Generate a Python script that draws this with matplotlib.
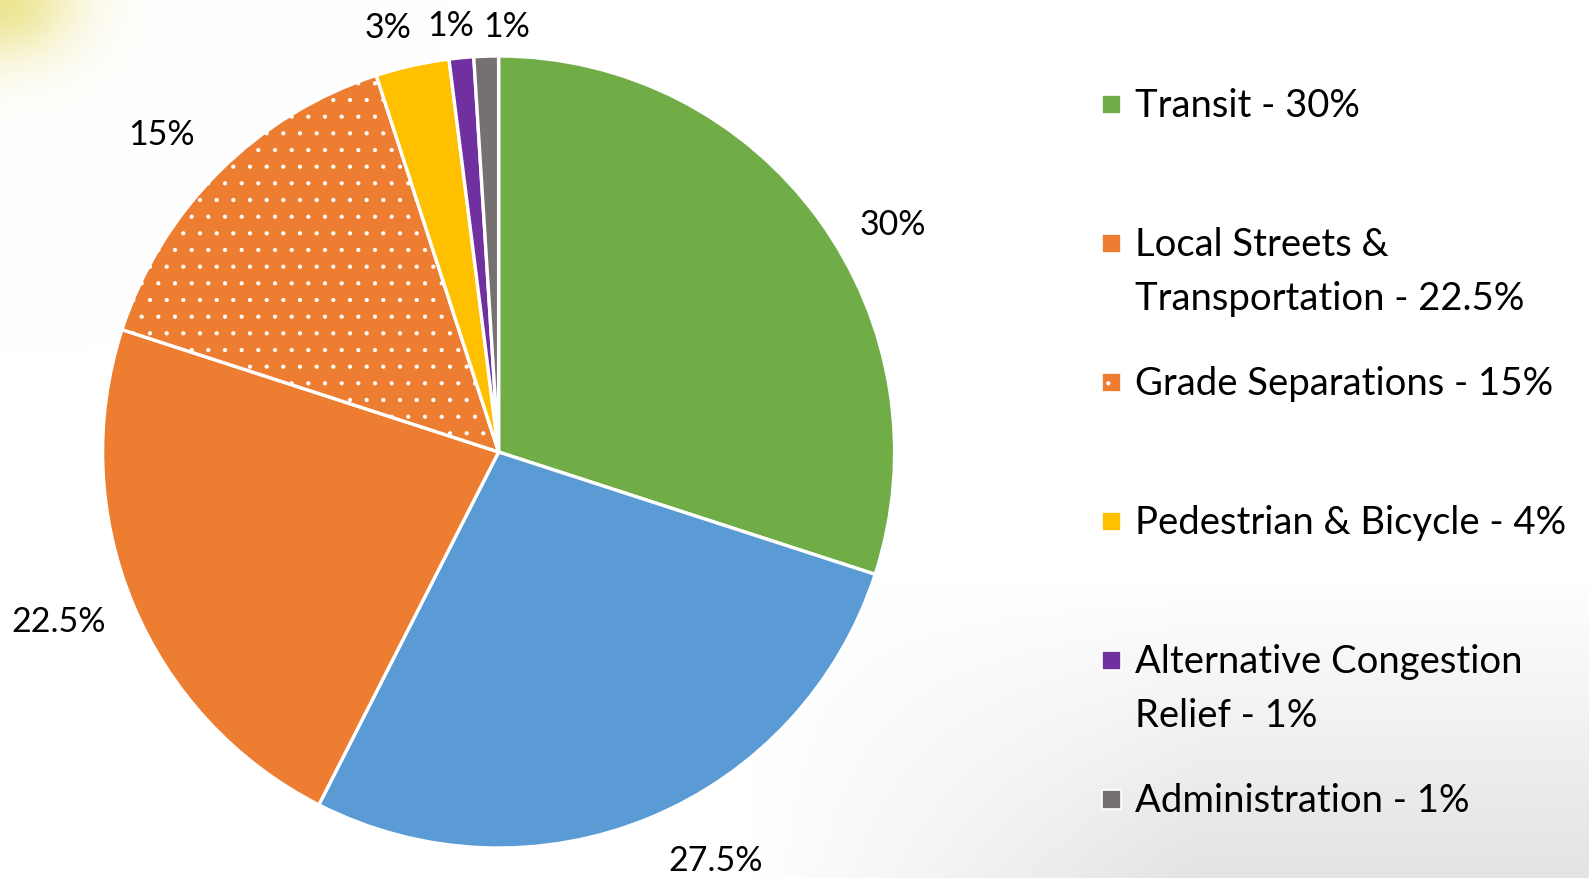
import numpy as np
import matplotlib
matplotlib.use("Agg")
import matplotlib.pyplot as plt
from matplotlib.patches import Rectangle

plt.rcParams['font.family'] = ['Lato', 'DejaVu Sans']
plt.rcParams['hatch.color'] = 'white'
plt.rcParams['hatch.linewidth'] = 0.6

# slices, clockwise from 12 o'clock
slice_values = [30, 27.5, 22.5, 15, 3, 1, 1]
slice_labels = ["30%", "27.5%", "22.5%", "15%", "3%", "1%", "1%"]
slice_colors = ["#70AD47", "#5B9BD5", "#ED7D31", "#ED7D31", "#FFC000", "#7030A0", "#767171"]
slice_hatch = [None, None, None, ".", None, None, None]

legend_labels = [
    "Transit - 30%",
    "Local Streets &\nTransportation - 22.5%",
    "Grade Separations - 15%",
    "Pedestrian & Bicycle - 4%",
    "Alternative Congestion\nRelief - 1%",
    "Administration - 1%",
]
legend_colors = ["#70AD47", "#ED7D31", "#ED7D31", "#FFC000", "#7030A0", "#767171"]
legend_hatch = [None, None, ".", None, None, None]

# where the % labels sit: angle nudge (deg) and distance (in radii)
lbl_shift = [-6, 5.5, -1.5, 1.6, 2, 1, -2.9]
lbl_dist = [1.15, 1.166, 1.19, 1.17, 1.11, 1.085, 1.077]

W, H = 1589, 879
fig = plt.figure(figsize=(W / 100, H / 100), dpi=100)

# background: yellow glow top-left, grey haze bottom-right
bg = fig.add_axes([0, 0, 1, 1], zorder=0)
yy, xx = np.mgrid[0:H, 0:W]
img = np.ones((H, W, 3))
g = 0.75 * np.exp(-((xx / 75.0) ** 2 + (yy / 60.0) ** 2))
yellow = np.array([0.90, 0.86, 0.42])
img = img * (1 - g[..., None]) + yellow * g[..., None]
haze = 0.2 * np.clip((yy - 580) / 300.0, 0, 1) * np.clip((xx - 750) / 450.0, 0, 1)
img = img * (1 - haze[..., None]) + 0.45 * haze[..., None]
bg.imshow(img, extent=(0, W, H, 0), aspect='auto')
bg.set_xlim(0, W)
bg.set_ylim(H, 0)
bg.axis('off')

# pie
cx, cy, r = 498.6, 453, 396
ax = fig.add_axes([(cx - r) / W, (H - cy - r) / H, 2 * r / W, 2 * r / H], zorder=2)
wedges, _ = ax.pie(slice_values, colors=slice_colors, startangle=90, counterclock=False,
                   radius=1, wedgeprops=dict(edgecolor='white', linewidth=2.4))
for w, h in zip(wedges, slice_hatch):
    if h:
        w.set_hatch(h)
ax.set_xlim(-1, 1)
ax.set_ylim(-1, 1)
ax.set_aspect('equal')
ax.axis('off')

for w, lab, sh, d in zip(wedges, slice_labels, lbl_shift, lbl_dist):
    ang = np.deg2rad((w.theta1 + w.theta2) / 2 + sh)
    ax.text(d * np.cos(ang), d * np.sin(ang), lab, ha='center', va='center',
            fontsize=24.5, color='black', clip_on=False)

# legend drawn by hand so marker sits on the first line
leg = fig.add_axes([0, 0, 1, 1], zorder=3)
leg.set_xlim(0, W)
leg.set_ylim(H, 0)
leg.axis('off')
for i, (lab, col, h) in enumerate(zip(legend_labels, legend_colors, legend_hatch)):
    base = 116.7 + 139 * i
    leg.add_patch(Rectangle((1101.5, base - 11 - 9.5), 19, 19, facecolor=col,
                            edgecolor='white', linewidth=1.2, hatch=h))
    for j, line in enumerate(lab.split("\n")):
        leg.text(1135, base + 54 * j, line, ha='left', va='baseline', fontsize=27.5,
                 color='black')

fig.savefig("out.png", dpi=100)
